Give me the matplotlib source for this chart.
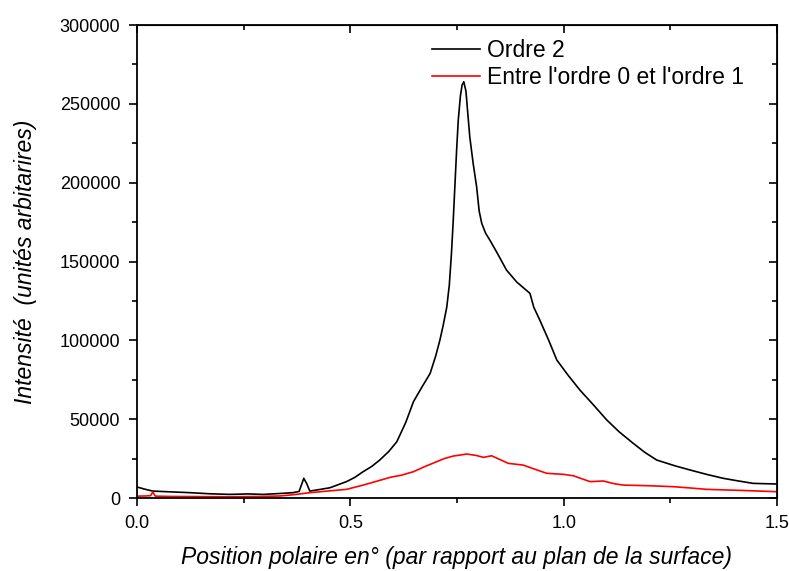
import matplotlib
matplotlib.use("Agg")
import matplotlib.pyplot as plt
from matplotlib.ticker import MultipleLocator

plt.rcParams['font.family'] = ['Liberation Sans', 'DejaVu Sans']

# Ordre 2 (black)
x_ordre2 = [0.0, 0.02, 0.037, 0.08, 0.124, 0.17, 0.218, 0.26, 0.296, 0.33, 0.366, 0.38,
            0.391, 0.398, 0.405, 0.43, 0.452, 0.47, 0.491, 0.51, 0.530, 0.55, 0.569,
            0.59, 0.609, 0.63, 0.648, 0.667, 0.687, 0.700, 0.710, 0.718, 0.726, 0.732,
            0.737, 0.741, 0.745, 0.749, 0.753, 0.758, 0.762, 0.766, 0.771, 0.775, 0.780,
            0.788, 0.796, 0.802, 0.808, 0.817, 0.827, 0.845, 0.866, 0.89, 0.921, 0.93,
            0.944, 0.965, 0.984, 1.01, 1.038, 1.07, 1.101, 1.13, 1.163, 1.19, 1.218,
            1.26, 1.296, 1.335, 1.374, 1.41, 1.444, 1.47, 1.5]
y_ordre2 = [7000, 5500, 4400, 3900, 3400, 2700, 2300, 2600, 2300, 2800, 3400, 4200,
            12500, 9000, 4400, 5500, 6500, 8300, 10400, 13000, 16700, 20000, 24100,
            29500, 35700, 48000, 61100, 70000, 79000, 90000, 100200, 110000, 121000, 135000,
            155000, 175000, 197400, 220000, 239700, 255000, 262000, 264000, 258000, 245000, 229000,
            212000, 197400, 182000, 174200, 168000, 163600, 155000, 144600, 137000, 129800, 121000,
            112900, 100000, 87500, 78000, 68500, 59000, 49500, 42000, 34700, 29000, 24100,
            20500, 17800, 15000, 12500, 10800, 9300, 9100, 8900]

# Entre l'ordre 0 et l'ordre 1 (red)
x_ordre01 = [0.0, 0.02, 0.032, 0.037, 0.043, 0.08, 0.15, 0.22, 0.29, 0.335, 0.37,
             0.405, 0.45, 0.491, 0.530, 0.56, 0.593, 0.62, 0.648, 0.675, 0.702, 0.72,
             0.741, 0.773, 0.795, 0.812, 0.831, 0.85, 0.870, 0.905, 0.93, 0.960, 1.0,
             1.023, 1.045, 1.062, 1.093, 1.12, 1.140, 1.2, 1.257, 1.3, 1.335, 1.42, 1.5]
y_ordre01 = [1200, 1300, 1500, 3800, 1200, 1000, 900, 800, 1000, 1300, 2200,
             3400, 4500, 5500, 8200, 10500, 13100, 14500, 16700, 20000, 23000, 25000,
             26600, 27900, 27000, 25800, 26800, 24500, 22000, 20900, 18500, 15700, 15000,
             14100, 12000, 10400, 10800, 9000, 8200, 7800, 7200, 6300, 5500, 4800, 4000]

fig = plt.figure(figsize=(7.89, 5.71), dpi=100)
ax = fig.add_axes([0.1736, 0.1278, 0.8112, 0.8284])

ax.plot(x_ordre2, y_ordre2, color='black', lw=1.2, label='Ordre 2')
ax.plot(x_ordre01, y_ordre01, color='red', lw=1.2, label="Entre l'ordre 0 et l'ordre 1")

ax.set_xlim(0, 1.5)
ax.set_ylim(0, 300000)
ax.xaxis.set_major_locator(MultipleLocator(0.5))
ax.xaxis.set_minor_locator(MultipleLocator(0.25))
ax.yaxis.set_major_locator(MultipleLocator(50000))
ax.yaxis.set_minor_locator(MultipleLocator(25000))
ax.xaxis.set_major_formatter(matplotlib.ticker.FormatStrFormatter('%.1f'))

ax.tick_params(which='major', direction='out', length=6, width=1.2, labelsize=13, pad=6)
ax.tick_params(which='minor', direction='out', length=3.5, width=1.2)
for s in ax.spines.values():
    s.set_linewidth(1.3)

# inward ticks on top and right
top = ax.secondary_xaxis('top')
top.xaxis.set_major_locator(MultipleLocator(0.5))
top.xaxis.set_minor_locator(MultipleLocator(0.25))
top.tick_params(which='major', direction='in', length=6, width=1.2, labeltop=False)
top.tick_params(which='minor', direction='in', length=3.5, width=1.2)
right = ax.secondary_yaxis('right')
right.yaxis.set_major_locator(MultipleLocator(50000))
right.yaxis.set_minor_locator(MultipleLocator(25000))
right.tick_params(which='major', direction='in', length=6, width=1.2, labelright=False)
right.tick_params(which='minor', direction='in', length=3.5, width=1.2)

ax.set_xlabel("Position polaire en° (par rapport au plan de la surface)", fontsize=16.5,
              style='italic', labelpad=10)
ax.set_ylabel("Intensité  (unités arbitarires)", fontsize=16.5, style='italic', labelpad=16)

ax.legend(loc='upper left', bbox_to_anchor=(0.439, 1.0), frameon=False, fontsize=16.5,
          handlelength=2.1, handletextpad=0.3, labelspacing=0.2, borderaxespad=0.2)

fig.savefig('out.png', dpi=100)
